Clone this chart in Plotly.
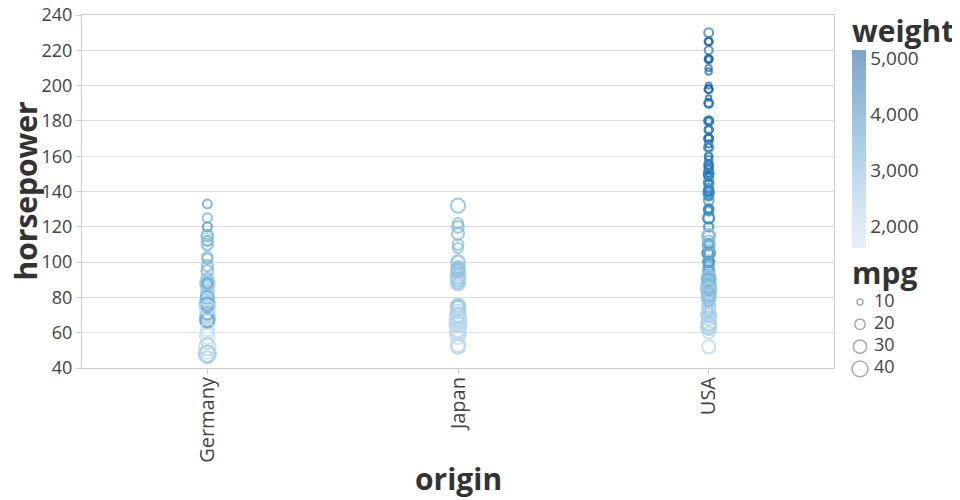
import plotly.graph_objects as go

# ---------------- data (cars dataset) ----------------
categories = ["Germany", "Japan", "USA"]

hp_germany = [46, 87, 90, 95, 113, 90, 70, 76, 60, 54, 112, 76, 87, 69, 46, 90, 49, 75, 91, 112, 110,
              83, 67, 78, 75, 75, 67, 71, 70, 95, 88, 98, 115, 86, 81, 83, 70, 71, 102, 88, 120,
              58, 78, 78, 110, 48, 103, 125, 115, 133, 71, 71, 77, 71, 69, 76, 78, 48, 48, 67, 67,
              62, 88, 74, 80, 76, 74, 52]
weight_germany = [1835, 2672, 2430, 2375, 2234, 2123, 2074, 2065, 1834, 2254, 2933, 2511, 2979, 2189, 1950,
                  2265, 1867, 2158, 2582, 2868, 2660, 2219, 1963, 2300, 2108, 2246, 2000, 2223, 1937, 2694,
                  2957, 2945, 2671, 2464, 2220, 2202, 1937, 1825, 3150, 3270, 3820, 1825, 1940, 2190, 2600,
                  1985, 2830, 3140, 2795, 3410, 1990, 1925, 3530, 3190, 2130, 2144, 2188, 2085, 2335, 2950,
                  3250, 1845, 2500, 2190, 3230, 3160, 1980, 2130]
mpg_germany = [26, 25, 24, 25, 26, 28, 30, 30, 27, 23, 18, 22, 21, 26, 26, 26, 29, 24, 20, 19, 24,
               29, 26, 26, 24, 26, 31, 25, 29, 23, 23, 22, 25, 28, 25, 27, 29, 29.5, 20, 19, 16.5,
               36, 29, 30.5, 21.5, 43.1, 20.3, 17, 21.6, 16.2, 31.5, 31.9, 25.4, 27.2, 37.3, 41.5, 34.3, 44.3, 43.4, 36.4, 30,
               29.8, 35, 33, 28.1, 30.7, 36, 44]

hp_japan = [95, 88, 88, 95, 65, 69, 95, 97, 92, 97, 88, 88, 94, 90, 122, 67, 65, 52, 61, 97, 93,
            75, 96, 97, 53, 53, 70, 75, 108, 68, 70, 75, 67, 97, 110, 52, 70, 60, 95, 97, 95,
            97, 68, 65, 60, 65, 90, 75, 92, 75, 65, 65, 67, 67, 132, 100, 72, 58, 60, 67, 65,
            62, 68, 75, 75, 100, 74, 116, 120, 68, 68, 88, 75, 70, 67, 67, 67, 96]
weight_japan = [2372, 2130, 2130, 2228, 1773, 1613, 2278, 2330, 2288, 2506, 2100, 2279, 2379, 2124, 2807,
                1950, 1836, 1649, 2003, 2489, 2391, 2171, 2702, 2545, 1795, 1795, 1990, 2155, 2930, 2045,
                1945, 2265, 1985, 2815, 2720, 1985, 2070, 1800, 2560, 2300, 2515, 2405, 2135, 1975, 1968,
                2019, 2711, 2542, 2434, 2265, 2110, 2110, 1850, 2145, 2910, 2420, 2290, 1755, 1760, 2065,
                1975, 2050, 1985, 2210, 2350, 2615, 2635, 2900, 2930, 2025, 1970, 2160, 2205, 2245, 1965,
                1965, 1995, 2665]
mpg_japan = [24, 27, 27, 25, 31, 35, 24, 19, 28, 23, 27, 20, 22, 18, 20, 31, 32, 31, 32, 24, 26,
             29, 24, 24, 33, 33, 32, 28, 19, 31.5, 33.5, 26, 30, 22, 21.5, 32.8, 39.4, 36.1, 27.5, 27.2, 21.1,
             23.9, 29.5, 34.1, 38.1, 37.2, 29.8, 31.3, 37, 32.2, 46.6, 40.8, 44.6, 33.8, 32.7, 23.7, 32.4, 39.1, 35.1, 32.3, 37,
             37.7, 34.1, 33.7, 32.4, 32.9, 31.6, 25.4, 24.2, 37, 31, 36, 36, 34, 38, 32, 38, 32]

hp_usa = [130, 165, 150, 150, 140, 198, 220, 215, 225, 190, 170, 160, 150, 225, 95, 97, 85, 90, 215, 200, 210,
          193, 90, 100, 105, 100, 88, 100, 165, 175, 153, 150, 180, 170, 175, 110, 72, 100, 88, 86, 70,
          80, 90, 86, 165, 175, 150, 153, 150, 208, 155, 160, 190, 150, 130, 140, 150, 86, 80, 175, 150,
          145, 137, 150, 198, 150, 158, 150, 215, 225, 175, 105, 100, 100, 88, 95, 150, 167, 170, 180, 100,
          72, 85, 107, 145, 230, 150, 180, 95, 100, 100, 80, 75, 100, 110, 105, 140, 150, 150, 140, 150,
          75, 95, 105, 72, 72, 170, 145, 150, 148, 110, 105, 110, 95, 110, 110, 129, 83, 100, 78, 97,
          90, 92, 79, 140, 150, 120, 152, 100, 105, 81, 90, 52, 60, 100, 78, 110, 95, 72, 150, 180,
          145, 130, 150, 80, 96, 145, 110, 145, 130, 110, 105, 100, 98, 180, 170, 190, 149, 88, 89, 63,
          83, 66, 110, 140, 139, 105, 95, 85, 88, 100, 90, 105, 85, 110, 120, 145, 165, 139, 140, 68,
          75, 105, 85, 115, 85, 88, 90, 110, 130, 129, 138, 135, 155, 142, 125, 150, 80, 80, 125, 90,
          70, 70, 90, 115, 115, 90, 70, 90, 88, 90, 90, 105, 84, 84, 92, 110, 84, 64, 63, 65,
          65, 110, 105, 88, 85, 88, 88, 88, 85, 84, 90, 92, 63, 70, 110, 85, 92, 112, 84, 90,
          86, 84, 79, 82]
weight_usa = [3504, 3693, 3436, 3433, 3449, 4341, 4354, 4312, 4425, 3850, 3563, 3609, 3761, 3086, 2833, 2774, 2587, 2648, 4615, 4376, 4382,
              4732, 2264, 2634, 3439, 3329, 3302, 3288, 4209, 4464, 4154, 4096, 4955, 4746, 5140, 2962, 2408, 3282, 3139, 2220, 1955,
              2126, 2408, 2226, 4274, 4385, 4135, 4129, 3672, 4633, 4502, 4456, 4422, 3892, 4098, 4294, 4077, 2395, 2164, 4100, 3672,
              3988, 4042, 3777, 4952, 4464, 4363, 4237, 4735, 4951, 3821, 3121, 3278, 2945, 3021, 2904, 4997, 4906, 4654, 4499, 2789,
              2401, 2310, 2472, 4082, 4278, 3399, 3664, 3102, 2901, 3336, 2451, 2542, 3781, 3632, 3613, 4141, 4699, 4457, 4638, 4257,
              2125, 3264, 3459, 3432, 3158, 4668, 4440, 4498, 4657, 3907, 3897, 3730, 3785, 3039, 3221, 3169, 2639, 2914, 2592, 2984,
              3211, 2572, 2255, 4215, 4190, 3962, 4215, 3233, 3353, 3012, 3085, 2035, 2164, 3651, 3574, 3645, 3193, 2565, 3940, 4380,
              4055, 3870, 3755, 2155, 2300, 3880, 4060, 4140, 4295, 3520, 3425, 3630, 3525, 4220, 4165, 4325, 4335, 2740, 2755, 2051,
              2075, 1800, 3365, 3735, 3570, 3535, 3155, 2965, 2720, 3430, 3210, 3380, 3070, 3620, 3410, 3425, 3445, 3205, 4080, 2155,
              2230, 2745, 2855, 3245, 2990, 2890, 3265, 3360, 3840, 3725, 3955, 3830, 4360, 4054, 3605, 3940, 1915, 2670, 3900, 3420,
              2200, 2150, 2670, 2595, 2700, 2556, 2120, 2678, 2870, 3003, 3381, 2800, 2490, 2635, 2620, 2725, 2385, 1875, 2215, 2045,
              2380, 3415, 3725, 3060, 3465, 2605, 2640, 2395, 2575, 2525, 2735, 2865, 2125, 2125, 2945, 3015, 2585, 2835, 2370, 2950,
              2790, 2295, 2625, 2720]
mpg_usa = [18, 15, 18, 16, 17, 15, 14, 14, 14, 15, 15, 14, 15, 14, 22, 18, 21, 21, 10, 10, 11,
           9, 28, 19, 16, 17, 19, 18, 14, 14, 14, 14, 12, 13, 13, 18, 22, 19, 18, 23, 26,
           25, 20, 21, 13, 14, 15, 14, 17, 11, 13, 12, 13, 15, 13, 13, 14, 22, 28, 13, 14,
           13, 14, 15, 12, 13, 13, 14, 13, 12, 13, 18, 16, 18, 18, 23, 11, 12, 13, 12, 18,
           21, 19, 21, 15, 16, 15, 11, 20, 19, 15, 26, 25, 16, 16, 18, 16, 13, 14, 14, 14,
           28, 19, 18, 15, 15, 16, 15, 16, 14, 17, 16, 15, 18, 21, 20, 13, 23, 20, 23, 18,
           19, 25, 26, 17.5, 16, 15.5, 14.5, 22, 22, 24, 22.5, 29, 24.5, 20, 18, 18.5, 17.5, 26.5, 13, 16.5,
           13, 13, 13, 30, 25.5, 17.5, 17, 15.5, 15, 17.5, 20.5, 19, 18.5, 16, 15.5, 15.5, 16, 24.5, 25.5, 30.5,
           33.5, 36.1, 19.9, 19.4, 20.2, 19.2, 20.5, 20.2, 25.1, 20.5, 19.4, 20.6, 20.8, 18.6, 18.1, 19.2, 17.7, 18.1, 17.5, 30,
           30.9, 23.2, 23.8, 21.5, 19.8, 22.3, 20.2, 20.6, 17, 17.6, 16.5, 18.2, 16.9, 15.5, 19.2, 18.5, 35.7, 27.4, 23, 23.9,
           34.2, 34.5, 28.4, 28.8, 26.8, 33.5, 32.1, 28, 26.4, 24.3, 19.1, 27.9, 27.2, 26.6, 25.8, 23.5, 30, 39, 34.7, 34.4,
           29.9, 22.4, 26.6, 20.2, 17.6, 28, 27, 34, 31, 29, 27, 24, 38, 36, 25, 38, 26, 22, 36, 27,
           27, 32, 28, 31]

weight_ticks = [2000, 3000, 4000, 5000]
mpg_legend = [10, 20, 30, 40]
mpg_legend_labels = ["10", "20", "30", "40"]

# ---------------- styling ----------------
FONT = "Open Sans"
blues = ["#cfe1f2", "#bed8ec", "#a8cee5", "#8fc1de", "#74b2d7", "#5ba3cf",
         "#4592c6", "#3181bd", "#206fb2", "#125ca4", "#0a4690"]


def fade(hexc, a):
    r, g, b = int(hexc[1:3], 16), int(hexc[3:5], 16), int(hexc[5:7], 16)
    return "rgb(%d,%d,%d)" % (round(r * a + 255 * (1 - a)), round(g * a + 255 * (1 - a)), round(b * a + 255 * (1 - a)))


scale_pts = [[i / 10, c] for i, c in enumerate(blues)]
scale_bar = [[i / 10, fade(c, 0.5)] for i, c in enumerate(blues)]
WMIN, WMAX = 1613, 5140
SIZEREF = 0.28

# page offset (body margin) compensation: target pixel -> figure pixel = target - 8
OFF = 8
P_L, P_R, P_T, P_B = 82, 955, 15, 400          # paper bounds in target pixels
PW, PH = P_R - P_L, P_B - P_T


def px(X):
    return (X - P_L) / PW


def py(Y):
    return (P_B - Y) / PH


fig = go.Figure()

groups = [(categories[0], hp_germany, weight_germany, mpg_germany),
          (categories[1], hp_japan, weight_japan, mpg_japan),
          (categories[2], hp_usa, weight_usa, mpg_usa)]

for name, hp, w, m in groups:
    fig.add_trace(go.Scatter(
        x=[name] * len(hp), y=hp, mode="markers", name=name, showlegend=False,
        marker=dict(symbol="circle-open", color=w, coloraxis="coloraxis",
                    size=[v - 5 for v in m], sizemode="area", sizeref=SIZEREF,
                    opacity=0.75, line=dict(width=2)),
        cliponaxis=False, hoverinfo="skip"))

# colorbar carrier (invisible points)
fig.add_trace(go.Scatter(
    x=[categories[0]] * len(hp_germany), y=hp_germany, mode="markers", showlegend=False,
    marker=dict(color=weight_germany, coloraxis="coloraxis2", opacity=0, size=1),
    hoverinfo="skip"))

# size legend
fig.add_trace(go.Scatter(
    x=[8] * len(mpg_legend), y=mpg_legend, xaxis="x2", yaxis="y2", mode="markers",
    marker=dict(symbol="circle-open", color="#888888", opacity=0.7,
                size=[v - 5 for v in mpg_legend], sizemode="area", sizeref=SIZEREF,
                line=dict(width=1.5)),
    showlegend=False, cliponaxis=False, hoverinfo="skip"))
fig.add_trace(go.Scatter(
    x=[22] * len(mpg_legend), y=mpg_legend, xaxis="x2", yaxis="y2", mode="text",
    text=mpg_legend_labels, textposition="middle right",
    textfont=dict(family=FONT, size=18, color="#444444"),
    showlegend=False, cliponaxis=False, hoverinfo="skip"))

# legend y-axis: value v sits at target Y = 302 + 2.23*(v-10)
y2_bottom = 10 + (P_B - 302) / 2.23
y2_top = 10 - (302 - 280) / 2.23

TITLE_FONT = dict(family=FONT, size=30, color="#333333", weight="bold")

W, H = 960 - OFF, 500 - OFF
fig.update_layout(
    width=W, height=H,
    margin=dict(l=P_L - OFF, r=W - (P_R - OFF), t=P_T - OFF, b=H - (P_B - OFF), autoexpand=False),
    paper_bgcolor="white", plot_bgcolor="white",
    font=dict(family=FONT, color="#444444"),
    coloraxis=dict(colorscale=scale_pts, cmin=WMIN, cmax=WMAX, showscale=False),
    coloraxis2=dict(colorscale=scale_bar, cmin=WMIN, cmax=WMAX, showscale=True,
                    colorbar=dict(x=px(852), xanchor="left", xpad=0,
                                  y=py(50), yanchor="top", ypad=0,
                                  len=198, lenmode="pixels", thickness=14,
                                  outlinewidth=0, tickvals=weight_ticks, tickformat=",",
                                  ticks="", tickfont=dict(family=FONT, size=19, color="#444444"))),
    xaxis=dict(domain=[0, px(834)], type="category", categoryorder="array", categoryarray=categories,
               range=[-0.5, 2.5], showgrid=False, showline=True, linecolor="#cccccc", mirror=True,
               ticks="outside", ticklen=5, tickcolor="#cccccc", tickangle=-90,
               ticklabelstandoff=-5, automargin=False,
               tickfont=dict(family=FONT, size=20, color="#444444"), zeroline=False),
    yaxis=dict(domain=[py(368), 1], range=[40, 240], dtick=20, showgrid=True, gridcolor="#dddddd",
               showline=True, linecolor="#cccccc", mirror=True, automargin=False,
               ticks="outside", ticklen=5, tickcolor="#cccccc", ticklabeloverflow="allow",
               tickfont=dict(family=FONT, size=18, color="#444444"), zeroline=False),
    xaxis2=dict(domain=[px(852), 1], range=[0, P_R - 852], visible=False, anchor="y2", fixedrange=True),
    yaxis2=dict(domain=[0, py(280)], range=[y2_bottom, y2_top], visible=False, anchor="x2", fixedrange=True),
    annotations=[
        dict(text="horsepower", xref="paper", yref="paper", x=0, y=py(191.5), xshift=25 - P_L,
             xanchor="center", yanchor="middle", textangle=-90, showarrow=False, font=TITLE_FONT),
        dict(text="origin", xref="paper", yref="paper", x=px(458), y=0, yshift=P_B - 478,
             xanchor="center", yanchor="middle", showarrow=False, font=TITLE_FONT),
        dict(text="weight", xref="paper", yref="paper", x=px(850), y=py(30),
             xanchor="left", yanchor="middle", showarrow=False, font=TITLE_FONT),
        dict(text="mpg", xref="paper", yref="paper", x=px(850), y=py(272),
             xanchor="left", yanchor="middle", showarrow=False, font=TITLE_FONT),
    ],
)

fig.write_html("out.html")
